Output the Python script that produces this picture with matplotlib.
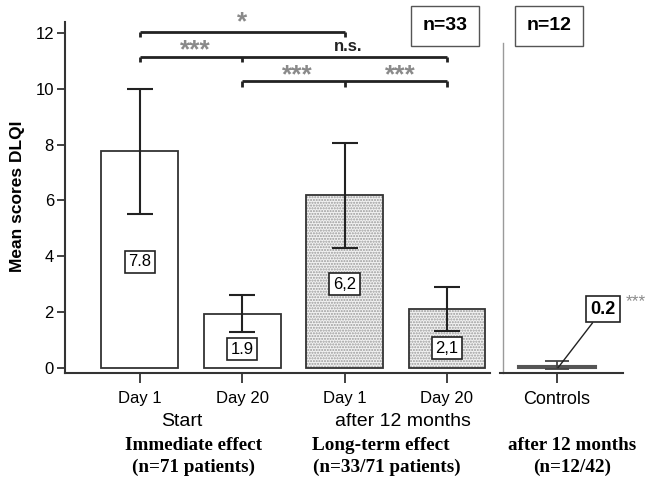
import matplotlib
matplotlib.use("Agg")
import matplotlib.pyplot as plt
import numpy as np

# values
categories = ["Day 1", "Day 20", "Day 1", "Day 20"]
means = [7.78, 1.93, 6.2, 2.12]
err_low = [5.5, 1.3, 4.3, 1.32]
err_high = [10.0, 2.6, 8.05, 2.9]
value_labels = ["7.8", "1.9", "6,2", "2,1"]
label_y = [3.8, 0.67, 3.0, 0.7]

ctrl_mean = 0.06
ctrl_low = -0.05
ctrl_high = 0.24
ctrl_label = "0.2"

plt.rcParams["font.family"] = ["Liberation Sans", "DejaVu Sans"]

W, H = 649, 482
fig = plt.figure(figsize=(W / 100, H / 100), dpi=100)

def fx(px):
    return px / W

def fy(py):
    return 1 - py / H

ylim = (-0.17, 12.4)
dark = "#222222"
gray_txt = "#8a8a8a"

ax = fig.add_axes([fx(65), fy(372.5), fx(490) - fx(65), fy(22) - fy(372.5)])
ax2 = fig.add_axes([fx(500), fy(372.5), fx(623) - fx(500), fy(22) - fy(372.5)])

x = np.arange(len(means))
bw = 0.75

# open bars (immediate effect)
ax.bar(x[:2], means[:2], width=bw, color="white", edgecolor="#333333", linewidth=1.3, zorder=2)
# stippled bars (long-term effect)
ax.bar(x[2:], means[2:], width=bw, color="#f2f2f2", edgecolor="#9a9a9a", hatch="......",
       linewidth=0, zorder=2)
ax.bar(x[2:], means[2:], width=bw, fill=False, edgecolor="#333333", linewidth=1.3, zorder=3)

yerr = np.array([np.array(means) - np.array(err_low), np.array(err_high) - np.array(means)])
ax.errorbar(x, means, yerr=yerr, fmt="none", ecolor=dark, elinewidth=1.5,
            capsize=9.5, capthick=1.5, zorder=4)

for xi, yi, lab in zip(x, label_y, value_labels):
    ax.text(xi, yi, lab, ha="center", va="center", fontsize=12, zorder=5,
            bbox=dict(boxstyle="square,pad=0.22", fc="white", ec=dark, lw=1.2))

# significance brackets
lw_b = 2.0
def hline(x0, x1, y):
    ax.plot([x0, x1], [y, y], color=dark, lw=lw_b, clip_on=False, solid_capstyle="butt")

def vtick(xp, y, d=0.2):
    ax.plot([xp, xp], [y, y - d], color=dark, lw=lw_b, clip_on=False, solid_capstyle="butt")

star_fs = 19
hline(0, 2, 12.05)
vtick(0, 12.05)
vtick(2, 12.05)
ax.text(1.0, 12.4, "*", ha="center", va="center", fontsize=star_fs, color=gray_txt,
        fontweight="bold", clip_on=False)

hline(0, 3, 11.16)
vtick(0, 11.16)
vtick(1, 11.16)
vtick(3, 11.16)
ax.text(0.54, 11.4, "***", ha="center", va="center", fontsize=star_fs, color=gray_txt,
        fontweight="bold")
ax.text(2.03, 11.52, "n.s.", ha="center", va="center", fontsize=12, color=dark,
        fontweight="bold")

hline(1, 3, 10.28)
vtick(1, 10.28)
vtick(2, 10.28)
vtick(3, 10.28)
ax.text(1.54, 10.48, "***", ha="center", va="center", fontsize=star_fs, color=gray_txt,
        fontweight="bold")
ax.text(2.54, 10.48, "***", ha="center", va="center", fontsize=star_fs, color=gray_txt,
        fontweight="bold")

ax.set_xlim(-0.73, 3.42)
ax.set_ylim(*ylim)
ax.set_yticks([0, 2, 4, 6, 8, 10, 12])
ax.set_xticks(x)
ax.set_xticklabels(categories)
for s in ["top", "right"]:
    ax.spines[s].set_visible(False)
for s in ["left", "bottom"]:
    ax.spines[s].set_color("#333333")
    ax.spines[s].set_linewidth(1.5)
ax.tick_params(axis="y", length=6, width=1.3, color="#333333", labelsize=12, pad=2)
ax.tick_params(axis="x", length=7, width=1.3, color="#333333", labelsize=12, pad=6)

# controls panel
ax2.bar([0], [ctrl_mean], width=0.76, color="#6a6a6a", edgecolor="#555555", linewidth=1.5, zorder=2)
ax2.errorbar([0], [ctrl_mean], yerr=[[ctrl_mean - ctrl_low], [ctrl_high - ctrl_mean]],
             fmt="none", ecolor="#444444", elinewidth=1.3, capsize=8.5, capthick=1.3, zorder=3)
ax2.annotate(ctrl_label, xy=(0.01, 0.0), xytext=(0.45, 2.1), ha="center", va="center",
             fontsize=13, fontweight="bold",
             bbox=dict(boxstyle="square,pad=0.25", fc="white", ec=dark, lw=1.2),
             arrowprops=dict(arrowstyle="-", color=dark, lw=1.0, shrinkA=0, shrinkB=0))
ax2.text(0.77, 2.38, "***", ha="center", va="center", fontsize=12.5, color=gray_txt,
         clip_on=False)
ax2.set_xlim(-0.557, 0.645)
ax2.set_ylim(*ylim)
ax2.set_yticks([])
ax2.set_xticks([0])
ax2.set_xticklabels(["Controls"])
for s in ["top", "right"]:
    ax2.spines[s].set_visible(False)
ax2.spines["left"].set_color("#9a9a9a")
ax2.spines["left"].set_linewidth(1.0)
ax2.spines["left"].set_bounds(ylim[0], 11.65)
ax2.spines["left"].set_position(("data", -0.53))
ax2.spines["bottom"].set_color("#333333")
ax2.spines["bottom"].set_linewidth(1.5)
ax2.tick_params(axis="x", length=7, width=1.3, color="#333333", labelsize=13, pad=6)

# y label and group texts
fig.text(fx(18), fy(196), "Mean scores DLQI", rotation=90, ha="center", va="center",
         fontsize=12.5, fontweight="bold")

fig.text(fx(445), fy(26), "n=33", ha="center", va="center", fontsize=14, fontweight="bold",
         bbox=dict(boxstyle="square,pad=0.6", fc="white", ec="#555555", lw=1.0))
fig.text(fx(549), fy(26), "n=12", ha="center", va="center", fontsize=14, fontweight="bold",
         bbox=dict(boxstyle="square,pad=0.6", fc="white", ec="#555555", lw=1.0))

fig.text(fx(182), fy(422), "Start", ha="center", va="center", fontsize=14)
fig.text(fx(403), fy(422), "after 12 months", ha="center", va="center", fontsize=14)

serif = ["Liberation Serif", "DejaVu Serif"]
for (px, py, txt) in [(194, 446, "Immediate effect"), (194, 467, "(n=71 patients)"),
                      (381, 446, "Long-term effect"), (387, 467, "(n=33/71 patients)"),
                      (572, 446, "after 12 months"), (572, 467, "(n=12/42)")]:
    fig.text(fx(px), fy(py), txt, ha="center", va="center", fontsize=13.8,
             fontweight="bold", family=serif)

fig.savefig("out.png", dpi=100)
